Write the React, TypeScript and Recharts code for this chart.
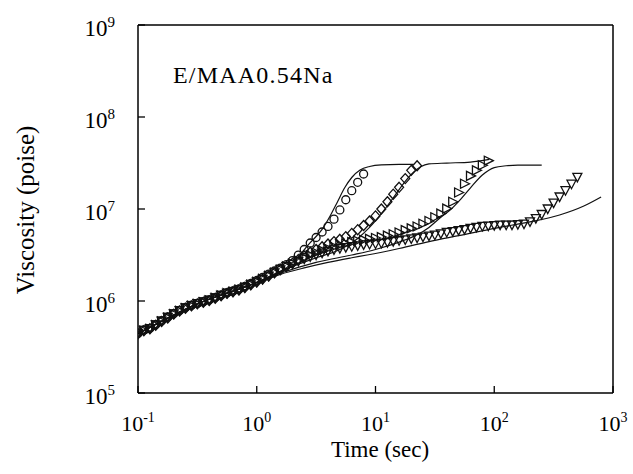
import React from 'react';
import { ComposedChart, Line, Scatter, XAxis, YAxis, ReferenceLine } from 'recharts';

const FONT = '"Liberation Serif", "Times New Roman", serif';

// sample times (sec), shared by the four measured series
const TIMES = [
  0.1, 0.112, 0.126, 0.141, 0.158, 0.178, 0.2, 0.224, 0.251, 0.282,
  0.316, 0.355, 0.398, 0.447, 0.501, 0.562, 0.631, 0.708, 0.794, 0.891,
  1.0, 1.12, 1.26, 1.41, 1.58, 1.78, 2.0, 2.24, 2.51, 2.82,
  3.16, 3.55, 3.98, 4.47, 5.01, 5.62, 6.31, 7.08, 7.94, 8.91,
  10, 11.2, 12.6, 14.1, 15.8, 17.8, 20, 22.4, 25.1, 28.2,
  31.6, 35.5, 39.8, 44.7, 50.1, 56.2, 63.1, 70.8, 79.4, 89.1,
  100, 112, 126, 141, 158, 178, 200, 224, 251, 282,
  316, 355, 398, 447, 501,
];

// viscosity (poise)
const CIRCLE_VISC = [
  4.45e5, 4.85e5, 5.05e5, 5.55e5, 6.1e5, 6.7e5, 7.3e5, 7.9e5, 8.5e5, 9.0e5,
  9.4e5, 9.85e5, 1.03e6, 1.09e6, 1.16e6, 1.23e6, 1.29e6, 1.35e6, 1.44e6, 1.55e6,
  1.67e6, 1.8e6, 1.96e6, 2.12e6, 2.28e6, 2.48e6, 2.75e6, 3.16e6, 3.63e6, 4.27e6,
  4.9e6, 5.62e6, 6.46e6, 7.76e6, 9.77e6, 1.26e7, 1.58e7, 1.95e7, 2.4e7,
];

const DIAMOND_VISC = [
  4.4e5, 4.75e5, 5.0e5, 5.45e5, 6.0e5, 6.55e5, 7.2e5, 7.8e5, 8.35e5, 8.85e5,
  9.3e5, 9.7e5, 1.01e6, 1.07e6, 1.14e6, 1.21e6, 1.26e6, 1.32e6, 1.4e6, 1.5e6,
  1.61e6, 1.73e6, 1.87e6, 2.03e6, 2.2e6, 2.38e6, 2.58e6, 2.82e6, 3.09e6, 3.39e6,
  3.63e6, 3.89e6, 4.17e6, 4.42e6, 4.68e6, 5.01e6, 5.43e6, 5.96e6, 6.61e6, 7.41e6,
  8.41e6, 1.0e7, 1.2e7, 1.45e7, 1.72e7, 2.14e7, 2.63e7, 2.95e7,
];

const RIGHT_TRI_VISC = [
  4.38e5, 4.78e5, 4.98e5, 5.48e5, 6.02e5, 6.6e5, 7.22e5, 7.82e5, 8.4e5, 8.9e5,
  9.32e5, 9.75e5, 1.02e6, 1.08e6, 1.15e6, 1.22e6, 1.27e6, 1.33e6, 1.41e6, 1.51e6,
  1.62e6, 1.74e6, 1.88e6, 2.04e6, 2.2e6, 2.38e6, 2.56e6, 2.75e6, 2.95e6, 3.16e6,
  3.35e6, 3.55e6, 3.72e6, 3.89e6, 4.07e6, 4.22e6, 4.37e6, 4.52e6, 4.62e6, 4.73e6,
  4.84e6, 4.95e6, 5.13e6, 5.31e6, 5.56e6, 5.89e6, 6.17e6, 6.46e6, 6.92e6, 7.41e6,
  8.13e6, 8.91e6, 1.01e7, 1.2e7, 1.51e7, 1.88e7, 2.29e7, 2.63e7, 2.99e7, 3.35e7,
];

const DOWN_TRI_VISC = [
  4.42e5, 4.8e5, 5.02e5, 5.5e5, 6.05e5, 6.62e5, 7.25e5, 7.85e5, 8.42e5, 8.92e5,
  9.35e5, 9.78e5, 1.02e6, 1.08e6, 1.15e6, 1.21e6, 1.26e6, 1.32e6, 1.4e6, 1.5e6,
  1.6e6, 1.72e6, 1.86e6, 2.02e6, 2.18e6, 2.36e6, 2.52e6, 2.69e6, 2.85e6, 3.02e6,
  3.16e6, 3.31e6, 3.47e6, 3.59e6, 3.72e6, 3.8e6, 3.89e6, 3.98e6, 4.07e6, 4.12e6,
  4.17e6, 4.22e6, 4.32e6, 4.42e6, 4.52e6, 4.62e6, 4.73e6, 4.84e6, 4.95e6, 5.07e6,
  5.19e6, 5.37e6, 5.56e6, 5.69e6, 5.82e6, 5.96e6, 6.17e6, 6.31e6, 6.46e6, 6.53e6,
  6.61e6, 6.68e6, 6.68e6, 6.68e6, 6.76e6, 6.84e6, 7.24e6, 7.85e6, 8.71e6, 1.0e7,
  1.16e7, 1.35e7, 1.58e7, 1.86e7, 2.21e7,
];

// model curves
const FIT_A_T = [0.1, 0.316, 1, 2, 2.82, 3.55, 4.17, 4.79, 5.5, 6.31, 7.41, 8.91, 11.2, 15.8, 20.9];
const FIT_A_V = [4.4e5, 9.3e5, 1.6e6, 2.6e6, 4.3e6, 6.0e6, 8.5e6, 1.2e7, 1.7e7, 2.2e7, 2.65e7, 2.9e7, 3.02e7, 3.05e7, 3.05e7];

const FIT_B_T = [0.1, 0.316, 1, 1.58, 3.16, 5.01, 7.08, 8.91, 11.2, 14.1, 17.8, 20.9, 24, 28.2, 39.8, 63.1, 91];
const FIT_B_V = [4.4e5, 9.3e5, 1.6e6, 2.1e6, 2.95e6, 3.63e6, 4.79e6, 6.31e6, 8.91e6, 1.32e7, 2.0e7, 2.51e7, 2.88e7, 3.09e7, 3.16e7, 3.24e7, 3.47e7];

const FIT_C_T = [0.1, 0.316, 1, 1.58, 3.16, 6.31, 10, 15.8, 22.4, 28.2, 35.5, 42.7, 52.5, 63.1, 79.4, 100, 126, 158, 251];
const FIT_C_V = [4.4e5, 9.3e5, 1.58e6, 2.0e6, 2.63e6, 3.16e6, 3.63e6, 4.37e6, 5.25e6, 6.31e6, 8.13e6, 9.8e6, 1.29e7, 1.7e7, 2.34e7, 2.82e7, 2.95e7, 3.0e7, 3.0e7];

const FIT_D_T = [0.1, 0.316, 1, 1.58, 2.51, 3.98, 6.31, 8.5, 15.8, 31.6, 50.1, 100, 200, 355, 562, 794];
const FIT_D_V = [4.4e5, 9.3e5, 1.58e6, 1.95e6, 2.29e6, 2.63e6, 2.95e6, 3.16e6, 3.72e6, 4.57e6, 5.13e6, 6.17e6, 7.24e6, 8.6e6, 1.07e7, 1.35e7];

const X_TICKS = [0.1, 1, 10, 100, 1000];
const Y_TICKS = [1e5, 1e6, 1e7, 1e8, 1e9];

const toPoints = (times: number[], values: number[]) => values.map((v, i) => ({ t: times[i], v }));

const STROKE = '#111';

const CircleMark = ({ cx, cy }: any) => (
  <circle cx={cx} cy={cy} r={4} fill="none" stroke={STROKE} strokeWidth={1.3} />
);
const DiamondMark = ({ cx, cy }: any) => (
  <path d={`M${cx},${cy - 5}L${cx + 4.5},${cy}L${cx},${cy + 5}L${cx - 4.5},${cy}Z`} fill="none" stroke={STROKE} strokeWidth={1.3} />
);
const RightTriMark = ({ cx, cy }: any) => (
  <path d={`M${cx + 5},${cy}L${cx - 4},${cy - 4.5}L${cx - 4},${cy + 4.5}Z`} fill="none" stroke={STROKE} strokeWidth={1.3} />
);
const DownTriMark = ({ cx, cy }: any) => (
  <path d={`M${cx - 4.5},${cy - 4}L${cx + 4.5},${cy - 4}L${cx},${cy + 4.5}Z`} fill="none" stroke={STROKE} strokeWidth={1.3} />
);

const exponent = (v: number) => Math.round(Math.log10(v));

const XTick = ({ x, y, payload }: any) => (
  <g>
    <line x1={x} x2={x} y1={y} y2={y - 7} stroke="#000" strokeWidth={1.3} />
    <text x={x} y={y + 38} textAnchor="middle" fontFamily={FONT} fontSize={22} fill="#000">
      10<tspan dy={-9} fontSize={14}>{exponent(payload.value)}</tspan>
    </text>
  </g>
);

const YTick = ({ x, y, payload }: any) => (
  <g>
    <line x1={x} x2={x + 7} y1={y} y2={y} stroke="#000" strokeWidth={1.3} />
    <text x={x - 23} y={y + 11} textAnchor="end" fontFamily={FONT} fontSize={23} fill="#000">
      10<tspan dy={-9} fontSize={15}>{exponent(payload.value)}</tspan>
    </text>
  </g>
);

export default function App() {
  const circles = toPoints(TIMES, CIRCLE_VISC);
  const diamonds = toPoints(TIMES, DIAMOND_VISC);
  const rightTris = toPoints(TIMES, RIGHT_TRI_VISC);
  const downTris = toPoints(TIMES, DOWN_TRI_VISC);
  const fits = [
    toPoints(FIT_A_T, FIT_A_V),
    toPoints(FIT_B_T, FIT_B_V),
    toPoints(FIT_C_T, FIT_C_V),
    toPoints(FIT_D_T, FIT_D_V),
  ];

  return (
    <div style={{ position: 'absolute', left: 0, top: 0, width: 633, height: 474, background: '#fff' }}>
      <ComposedChart width={633} height={474} margin={{ top: 25, right: 20, bottom: 0, left: 0 }}>
        <XAxis
          dataKey="t"
          type="number"
          scale="log"
          domain={[0.1, 1000]}
          ticks={X_TICKS}
          allowDataOverflow
          height={81}
          tickSize={0}
          tickMargin={0}
          tick={<XTick />}
          axisLine={{ stroke: '#000', strokeWidth: 1.5 }}
        />
        <YAxis
          dataKey="v"
          type="number"
          scale="log"
          domain={[1e5, 1e9]}
          ticks={Y_TICKS}
          allowDataOverflow
          width={138}
          tickSize={0}
          tickMargin={0}
          tick={<YTick />}
          axisLine={{ stroke: '#000', strokeWidth: 1.5 }}
        />
        <ReferenceLine y={1e9} stroke="#000" strokeWidth={1.5} />
        <ReferenceLine x={1000} stroke="#000" strokeWidth={1.5} />
        {fits.map((d, i) => (
          <Line
            key={`fit-${i}`}
            data={d}
            dataKey="v"
            type="monotone"
            stroke={STROKE}
            strokeWidth={1.2}
            dot={false}
            activeDot={false}
            isAnimationActive={false}
          />
        ))}
        <Scatter data={downTris} dataKey="v" shape={<DownTriMark />} isAnimationActive={false} />
        <Scatter data={rightTris} dataKey="v" shape={<RightTriMark />} isAnimationActive={false} />
        <Scatter data={diamonds} dataKey="v" shape={<DiamondMark />} isAnimationActive={false} />
        <Scatter data={circles} dataKey="v" shape={<CircleMark />} isAnimationActive={false} />
        <text x={173} y={83} fontFamily={FONT} fontSize={24} letterSpacing={1.2} fill="#000">
          E/MAA0.54Na
        </text>
        <text x={380} y={457} textAnchor="middle" fontFamily={FONT} fontSize={23} fill="#000">
          Time (sec)
        </text>
        <text
          x={25}
          y={210}
          transform="rotate(-90 25 210)"
          textAnchor="middle"
          dominantBaseline="central"
          fontFamily={FONT}
          fontSize={25}
          fill="#000"
        >
          Viscosity (poise)
        </text>
      </ComposedChart>
    </div>
  );
}
